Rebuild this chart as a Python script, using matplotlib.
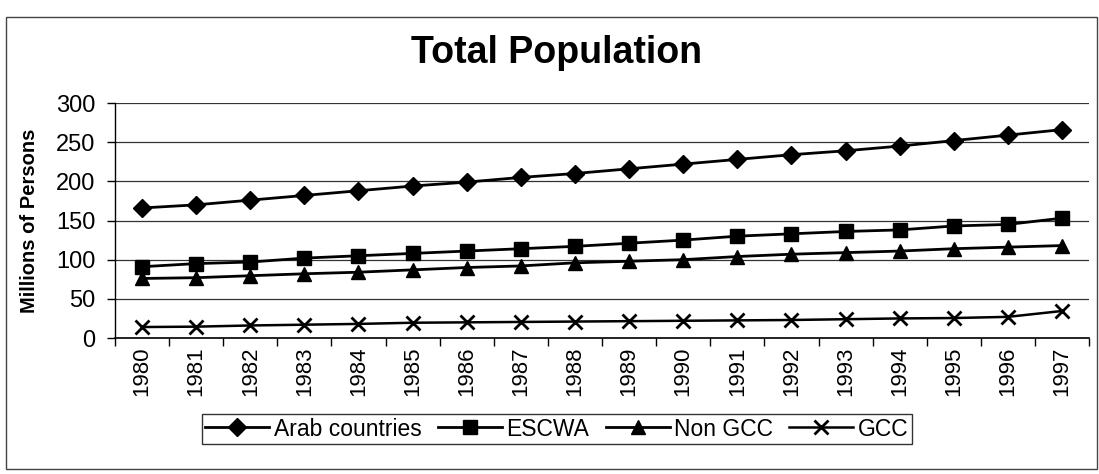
import matplotlib
matplotlib.use("Agg")
import matplotlib.pyplot as plt
from matplotlib.patches import Rectangle

plt.rcParams['font.family'] = ['Liberation Sans', 'DejaVu Sans']

years = [str(y) for y in range(1980, 1998)]
arab = [166, 170, 176, 182, 188, 194, 199, 205, 210, 216, 222, 228, 234, 239, 245, 252, 259, 266]
escwa = [91, 95, 97, 102, 105, 108, 111, 114, 117, 121, 125, 130, 133, 136, 138, 143, 145, 153]
non_gcc = [76, 77, 79.5, 82, 84, 87, 90, 92, 96, 98, 100, 104, 107, 109, 111, 114, 116, 118]
gcc = [14, 14.5, 16, 17, 18, 19.5, 20, 20.5, 21, 21.5, 22, 22.5, 23, 24, 25, 25.5, 27, 34.5]

fig = plt.figure(figsize=(10.99, 4.74), dpi=100)
ax = fig.add_axes([0.1046, 0.2869, 0.8864, 0.4958])

x = range(len(years))
ax.plot(x, arab, color='black', lw=2, marker='D', ms=9, label='Arab countries')
ax.plot(x, escwa, color='black', lw=2, marker='s', ms=10, label='ESCWA')
ax.plot(x, non_gcc, color='black', lw=2, marker='^', ms=10, label='Non GCC')
ax.plot(x, gcc, color='black', lw=1.8, marker='x', ms=10.5, mew=2, label='GCC')

ax.set_xlim(-0.5, len(years) - 0.5)
ax.set_ylim(0, 300)
ax.set_yticks(range(0, 301, 50))
ax.set_xticks(list(x))
ax.set_xticklabels(years, rotation=90, fontsize=16)
ax.set_xticks([i - 0.5 for i in range(len(years) + 1)], minor=True)
ax.tick_params(axis='x', which='major', length=0, pad=6)
ax.tick_params(axis='x', which='minor', length=6, width=1, direction='out')
ax.tick_params(axis='y', length=6, width=1, labelsize=17, pad=8)
ax.grid(axis='y', color='#333333', lw=0.9)
ax.set_axisbelow(True)
for side in ['top', 'right']:
    ax.spines[side].set_visible(False)
ax.spines['left'].set_linewidth(1)
ax.spines['bottom'].set_linewidth(1.2)

ax.set_ylabel('Millions of Persons', fontsize=14.5, fontweight='bold', labelpad=12)
fig.text(557 / 1099, 1 - 53 / 474, 'Total Population', ha='center', va='center',
         fontsize=27, fontweight='bold')

leg = ax.legend(loc='center', bbox_to_anchor=(557 / 1099, 1 - 429 / 474),
                bbox_transform=fig.transFigure, ncol=4, frameon=True,
                fancybox=False, edgecolor='black', fontsize=16.5,
                handlelength=2.8, handletextpad=0.2, columnspacing=0.7,
                borderpad=0.15, borderaxespad=0)
leg.get_frame().set_linewidth(1)

# outer chart border
fig.patches.append(Rectangle((6 / 1099, 5 / 474), 1091 / 1099, 452 / 474,
                             transform=fig.transFigure, fill=False,
                             edgecolor='#444444', lw=1))

fig.savefig('out.png', dpi=100)
